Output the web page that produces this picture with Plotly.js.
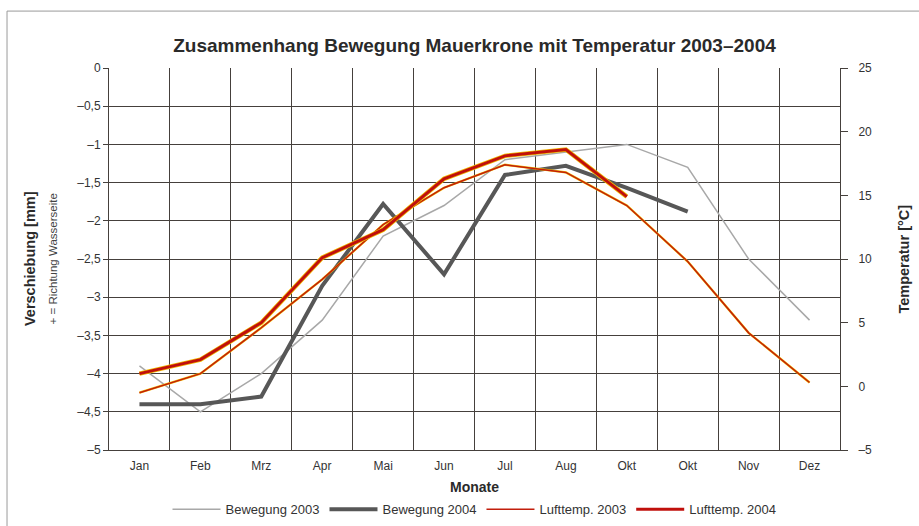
<!DOCTYPE html>
<html>
<head>
<meta charset="utf-8">
<script src="https://cdn.plot.ly/plotly-3.0.1.min.js"></script>
<style>html,body{margin:0;padding:0;background:#fff;}#chart{width:919px;height:526px;}</style>
</head>
<body>
<div id="chart"></div>
<script>
// ---- data ----
const months = ['Jan','Feb','Mrz','Apr','Mai','Jun','Jul','Aug','Okt','Okt','Nov','Dez'];
const monthPos = [0,1,2,3,4,5,6,7,8,9,10,11];
const bewegung2003 = [-3.9,-4.5,-4.0,-3.3,-2.2,-1.8,-1.2,-1.1,-1.0,-1.3,-2.5,-3.3];
const bewegung2004 = [-4.4,-4.4,-4.3,-2.85,-1.78,-2.7,-1.4,-1.28,-1.57,-1.88];
const lufttemp2003 = [-0.5,1.0,4.6,8.4,12.7,15.6,17.4,16.8,14.2,9.8,4.2,0.3];
const lufttemp2004 = [1.0,2.1,5.0,10.1,12.3,16.3,18.1,18.6,14.9];
const leftTickVals = [0,-0.5,-1,-1.5,-2,-2.5,-3,-3.5,-4,-4.5,-5];
const leftTickText = ['0','–0,5','–1','–1,5','–2','–2,5','–3','–3,5','–4','–4,5','–5'];
const rightTickVals = [25,20,15,10,5,0,-5];
const rightTickText = ['25','20','15','10','5','0','–5'];
const boundaries = monthPos.concat([12]).map(v => v - 0.5);

const font = 'Liberation Sans, Arial, sans-serif';
const gridCol = '#45403c';

const traces = [
  {x: monthPos.slice(0, bewegung2003.length), y: bewegung2003, name: 'Bewegung 2003', type: 'scatter', mode: 'lines',
   line: {color: '#a8a8a8', width: 1.5}, xaxis: 'x', yaxis: 'y'},
  {x: monthPos.slice(0, bewegung2004.length), y: bewegung2004, name: 'Bewegung 2004', type: 'scatter', mode: 'lines',
   line: {color: '#575757', width: 4}, xaxis: 'x', yaxis: 'y'},
  {x: monthPos.slice(0, lufttemp2003.length), y: lufttemp2003, name: 'Lufttemp. 2003 base', type: 'scatter', mode: 'lines',
   line: {color: '#f3c200', width: 2.3}, xaxis: 'x2', yaxis: 'y2', showlegend: false, hoverinfo: 'skip'},
  {x: monthPos.slice(0, lufttemp2003.length), y: lufttemp2003, name: 'Lufttemp. 2003', type: 'scatter', mode: 'lines',
   line: {color: '#c21e0c', width: 1.5}, xaxis: 'x2', yaxis: 'y2'},
  {x: monthPos.slice(0, lufttemp2004.length), y: lufttemp2004, name: 'Lufttemp. 2004 base', type: 'scatter', mode: 'lines',
   line: {color: '#f0b800', width: 4.5}, xaxis: 'x2', yaxis: 'y2', showlegend: false, hoverinfo: 'skip'},
  {x: monthPos.slice(0, lufttemp2004.length), y: lufttemp2004, name: 'Lufttemp. 2004', type: 'scatter', mode: 'lines',
   line: {color: '#c0100c', width: 3}, xaxis: 'x2', yaxis: 'y2'}
];

const layout = {
  width: 919, height: 526,
  margin: {l: 109, r: 79, t: 68, b: 76, autoexpand: false},
  paper_bgcolor: '#ffffff', plot_bgcolor: '#ffffff',
  font: {family: font, color: '#333333', size: 12},
  showlegend: true,
  title: {text: '<b>Zusammenhang Bewegung Mauerkrone mit Temperatur 2003–2004</b>',
          font: {family: font, size: 19, color: '#2a2a2a'}, x: 0.5, xref: 'paper', xanchor: 'center', y: 0.913, yanchor: 'middle'},
  xaxis: {range: [-0.5, 11.5], tickmode: 'array', tickvals: monthPos, ticktext: months,
          showgrid: false, zeroline: false, showline: true, linecolor: gridCol, linewidth: 1,
          ticks: 'outside', ticklen: 5, tickcolor: 'rgba(0,0,0,0)', tickfont: {size: 12, color: '#333'}, fixedrange: true},
  xaxis2: {range: [-0.5, 11.5], overlaying: 'x', anchor: 'y', side: 'bottom', tickmode: 'array', tickvals: boundaries,
           showticklabels: false, showgrid: true, gridcolor: gridCol, gridwidth: 1, zeroline: false, ticks: ''},
  yaxis: {range: [-5, 0], tickmode: 'array', tickvals: leftTickVals, ticktext: leftTickText,
          showgrid: true, gridcolor: gridCol, gridwidth: 1, zeroline: false, showline: true, linecolor: gridCol,
          ticks: 'outside', ticklen: 5, tickcolor: gridCol, tickfont: {size: 12, color: '#333'}},
  yaxis2: {range: [-5, 25], overlaying: 'y', side: 'right', anchor: 'x2', tickmode: 'array', tickvals: rightTickVals, ticktext: rightTickText,
           showgrid: false, zeroline: false, showline: true, linecolor: gridCol, ticks: 'outside', ticklen: 7, tickcolor: gridCol,
           ticklabelstandoff: 8, tickfont: {size: 12, color: '#333'}},
  legend: {orientation: 'h', x: 0.5, xanchor: 'center', y: -0.155, yanchor: 'middle',
           font: {size: 13, color: '#333'}, itemwidth: 48, tracegroupgap: 0},
  annotations: [
    {text: '<b>Verschiebung [mm]</b>', xref: 'paper', yref: 'paper', x: -0.108, y: 0.5, textangle: -90,
     showarrow: false, font: {size: 14.5, color: '#2a2a2a'}, xanchor: 'center', yanchor: 'middle'},
    {text: '+ = Richtung Wasserseite', xref: 'paper', yref: 'paper', x: -0.076, y: 0.5, textangle: -90,
     showarrow: false, font: {size: 11.5, color: '#444'}, xanchor: 'center', yanchor: 'middle'},
    {text: '<b>Temperatur [°C]</b>', xref: 'paper', yref: 'paper', x: 1.087, y: 0.5, textangle: -90,
     showarrow: false, font: {size: 14.5, color: '#2a2a2a'}, xanchor: 'center', yanchor: 'middle'},
    {text: '<b>Monate</b>', xref: 'paper', yref: 'paper', x: 0.5, y: -0.097, showarrow: false,
     font: {size: 14, color: '#2a2a2a'}, xanchor: 'center', yanchor: 'middle'}
  ],
  shapes: [
    {type: 'rect', xref: 'paper', yref: 'paper', x0: -0.1395, x1: 1.2, y0: -0.3, y1: 1.149,
     line: {color: '#9a9a9a', width: 1}, fillcolor: 'rgba(0,0,0,0)', layer: 'below'}
  ]
};

Plotly.newPlot('chart', traces, layout, {displayModeBar: false, staticPlot: true});
</script>
</body>
</html>
